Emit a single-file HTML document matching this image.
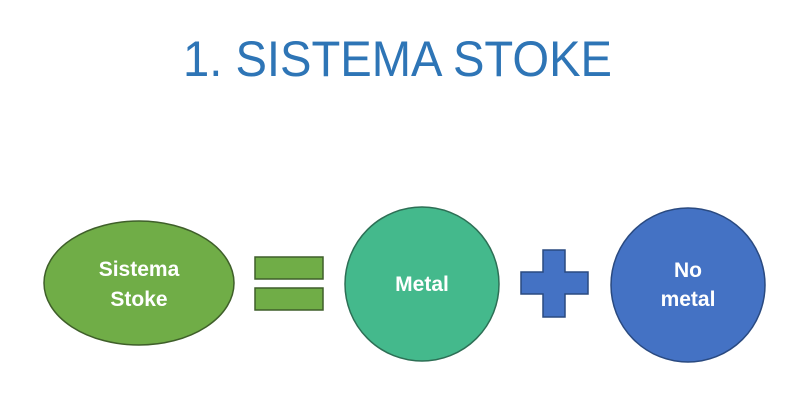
<!DOCTYPE html>
<html><head><style>
body{margin:0;width:800px;height:403px;background:#fff;overflow:hidden}
</style></head><body>
<svg width="800" height="403" xmlns="http://www.w3.org/2000/svg" font-family="Liberation Sans, sans-serif">
<text x="183" y="76" textLength="429" lengthAdjust="spacingAndGlyphs" font-size="50" fill="#2e75b6">1. SISTEMA STOKE</text>
<ellipse cx="139" cy="283" rx="95" ry="62" fill="#70ad47" stroke="#3f5f2a" stroke-width="1.5"/>
<text x="139" y="276" text-anchor="middle" font-size="21" font-weight="bold" fill="#fff">Sistema</text>
<text x="139" y="306" text-anchor="middle" font-size="21" font-weight="bold" fill="#fff">Stoke</text>
<rect x="255" y="257" width="68" height="22" fill="#70ad47" stroke="#3f5f2a" stroke-width="1.5"/>
<rect x="255" y="288" width="68" height="22" fill="#70ad47" stroke="#3f5f2a" stroke-width="1.5"/>
<circle cx="422" cy="284" r="77" fill="#44b98c" stroke="#2d6f55" stroke-width="1.5"/>
<text x="422" y="291" text-anchor="middle" font-size="21" font-weight="bold" fill="#fff">Metal</text>
<path d="M543 250H565V272H588V294H565V317H543V294H521V272H543Z" fill="#4472c4" stroke="#2a4a80" stroke-width="1.5"/>
<circle cx="688" cy="285" r="77" fill="#4472c4" stroke="#2a4a80" stroke-width="1.5"/>
<text x="688" y="277" text-anchor="middle" font-size="21" font-weight="bold" fill="#fff">No</text>
<text x="688" y="306" text-anchor="middle" font-size="21" font-weight="bold" fill="#fff">metal</text>
</svg>
</body></html>
